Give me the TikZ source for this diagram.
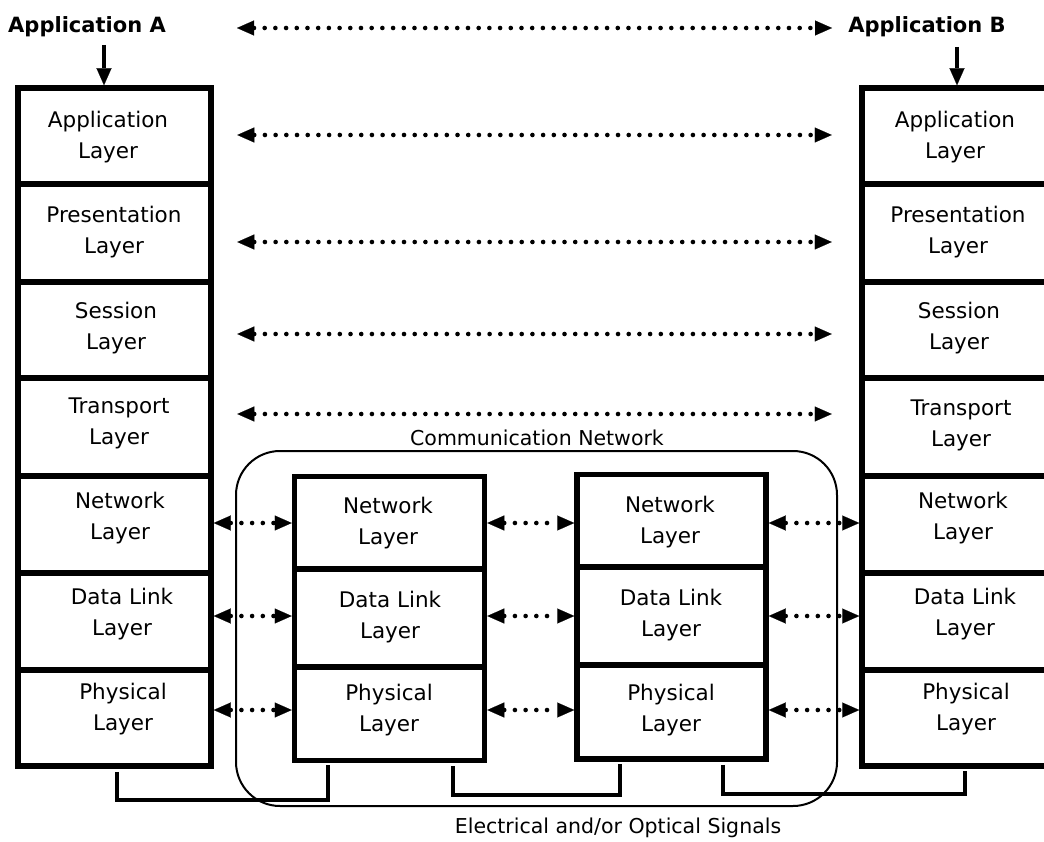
\documentclass[tikz,border=0pt]{standalone}
\usepackage{fontspec}
\setmainfont{DejaVu Sans}
\usetikzlibrary{arrows.meta}
\begin{document}
\begin{tikzpicture}[x=1pt,y=-1pt,
  lyrL/.style={draw, line width=5.5pt, minimum width=193pt, inner sep=0pt},
  lyrM/.style={draw, line width=5.5pt, minimum width=190pt, inner sep=0pt},
  txt/.style={font=\fontsize{21.5}{31}\selectfont, align=center, inner sep=0pt},
  lbl/.style={font=\fontsize{21}{25}\selectfont\bfseries, inner sep=0pt},
  captxt/.style={font=\fontsize{20.5}{25}\selectfont, inner sep=0pt},
  dots/.style={line width=4.6pt, line cap=round, dash pattern=on 0pt off 10.7pt, {Triangle[length=17pt,width=15pt,line width=0.1pt]}-{Triangle[length=17pt,width=15pt,line width=0.1pt]}},
  down/.style={line width=3.5pt, -{Triangle[length=17pt,width=15pt,line width=0.1pt]}},
  wire/.style={line width=4.5pt, shorten <=3pt, shorten >=2pt},
  netframe/.style={draw, line width=2pt, rounded corners=44pt, minimum width=601pt, minimum height=355pt, inner sep=0pt}
]
\useasboundingbox (0,0) rectangle (1044,842);
\clip (0,0) rectangle (1044,842);

% communication network frame
\node[netframe] (cn) at (536.5,628.5) {};
\node[captxt] (cnl) at (537,438) {Communication Network};
\node[captxt] (esl) at (618,828) {Electrical and/or Optical Signals};

% left stack
\node[lyrL, minimum height=96pt] (LA1) at (114.5,136) {};
\node[lyrL, minimum height=98pt] (LA2) at (114.5,233) {};
\node[lyrL, minimum height=96pt] (LA3) at (114.5,330) {};
\node[lyrL, minimum height=98pt] (LA4) at (114.5,427) {};
\node[lyrL, minimum height=97pt] (LA5) at (114.5,524.5) {};
\node[lyrL, minimum height=97pt] (LA6) at (114.5,621.5) {};
\node[lyrL, minimum height=96pt] (LA7) at (114.5,718) {};
\node[txt] (tLA1) at (108,137.5) {Application\\Layer};
\node[txt] (tLA2) at (114,232.5) {Presentation\\Layer};
\node[txt] (tLA3) at (116,328.5) {Session\\Layer};
\node[txt] (tLA4) at (119,423.5) {Transport\\Layer};
\node[txt] (tLA5) at (120,518.5) {Network\\Layer};
\node[txt] (tLA6) at (122,614) {Data Link\\Layer};
\node[txt] (tLA7) at (123,709) {Physical\\Layer};

% right stack
\node[lyrL, minimum height=96pt] (RA1) at (958.5,136) {};
\node[lyrL, minimum height=98pt] (RA2) at (958.5,233) {};
\node[lyrL, minimum height=96pt] (RA3) at (958.5,330) {};
\node[lyrL, minimum height=98pt] (RA4) at (958.5,427) {};
\node[lyrL, minimum height=97pt] (RA5) at (958.5,524.5) {};
\node[lyrL, minimum height=97pt] (RA6) at (958.5,621.5) {};
\node[lyrL, minimum height=96pt] (RA7) at (958.5,718) {};
\node[txt] (tRA1) at (955,137.5) {Application\\Layer};
\node[txt] (tRA2) at (958,232.5) {Presentation\\Layer};
\node[txt] (tRA3) at (959,328.5) {Session\\Layer};
\node[txt] (tRA4) at (961,425.5) {Transport\\Layer};
\node[txt] (tRA5) at (963,518.5) {Network\\Layer};
\node[txt] (tRA6) at (965,614) {Data Link\\Layer};
\node[txt] (tRA7) at (966,709.5) {Physical\\Layer};

% middle nodes
\node[lyrM, minimum height=92.5pt] (M1a) at (389.5,522.75) {};
\node[lyrM, minimum height=98pt] (M1b) at (389.5,618) {};
\node[lyrM, minimum height=93.5pt] (M1c) at (389.5,713.75) {};
\node[txt] (tM1a) at (388,523) {Network\\Layer};
\node[txt] (tM1b) at (390,617.5) {Data Link\\Layer};
\node[txt] (tM1c) at (389,710) {Physical\\Layer};
\node[lyrM, minimum width=189pt, minimum height=92.5pt] (M2a) at (671.5,520.75) {};
\node[lyrM, minimum width=189pt, minimum height=98pt] (M2b) at (671.5,616) {};
\node[lyrM, minimum width=189pt, minimum height=94pt] (M2c) at (671.5,712) {};
\node[txt] (tM2a) at (670,522.5) {Network\\Layer};
\node[txt] (tM2b) at (671,615.5) {Data Link\\Layer};
\node[txt] (tM2c) at (671,710.5) {Physical\\Layer};

% application labels
\node[lbl] (appA) at (87,27) {Application A};
\node[lbl] (appB) at (927,27) {Application B};
\coordinate (tL) at (237,28);
\coordinate (tR) at (832,28);
\draw[dots] (tL) -- (tR);
\coordinate (dA) at (104,45);
\coordinate (dB) at (957,47);
\draw[down] (dA) -- (dA |- LA1.north);
\draw[down] (dB) -- (dB |- RA1.north);

% peer arrows, upper layers
\draw[dots] ([xshift=23.5pt,yshift=1pt]LA1.east) -- ([xshift=-27.5pt,yshift=1pt]RA1.west);
\draw[dots] ([xshift=23.5pt,yshift=-9pt]LA2.east) -- ([xshift=-27.5pt,yshift=-9pt]RA2.west);
\draw[dots] ([xshift=23.5pt,yshift=-4pt]LA3.east) -- ([xshift=-27.5pt,yshift=-4pt]RA3.west);
\draw[dots] ([xshift=23.5pt,yshift=13pt]LA4.east) -- ([xshift=-27.5pt,yshift=13pt]RA4.west);

% peer arrows, lower layers
\draw[dots] ([yshift=1.5pt]LA5.east) -- ([yshift=-0.25pt]M1a.west);
\draw[dots] ([yshift=-0.25pt]M1a.east) -- ([yshift=-2.25pt]M2a.west);
\draw[dots] ([yshift=-2.25pt]M2a.east) -- ([yshift=1.5pt]RA5.west);
\draw[dots] ([yshift=5.5pt]LA6.east) -- ([yshift=2pt]M1b.west);
\draw[dots] ([yshift=2pt]M1b.east) -- (M2b.west);
\draw[dots] (M2b.east) -- ([yshift=5.5pt]RA6.west);
\draw[dots] ([yshift=8pt]LA7.east) -- ([yshift=3.75pt]M1c.west);
\draw[dots] ([yshift=3.75pt]M1c.east) -- ([yshift=2pt]M2c.west);
\draw[dots] ([yshift=2pt]M2c.east) -- ([yshift=8pt]RA7.west);

% signal wires
\coordinate (w1) at (117,800);
\coordinate (w2) at (328,800);
\coordinate (w3) at (453,795);
\coordinate (w4) at (620,795);
\coordinate (w5) at (723,794);
\coordinate (w6) at (965,794);
\draw[wire] (LA7.south -| w1) -- (w1) -- (w2) -- (M1c.south -| w2);
\draw[wire] (M1c.south -| w3) -- (w3) -- (w4) -- (M2c.south -| w4);
\draw[wire] (M2c.south -| w5) -- (w5) -- (w6) -- (RA7.south -| w6);
\end{tikzpicture}
\end{document}
